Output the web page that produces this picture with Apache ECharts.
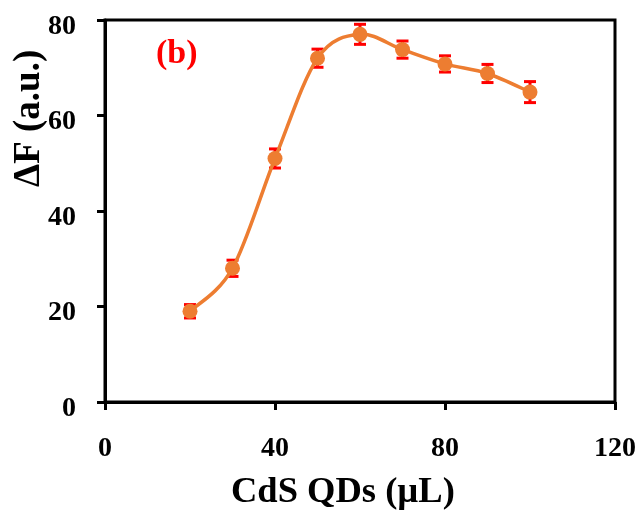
<!DOCTYPE html>
<html><head><meta charset="utf-8">
<script src="https://cdn.jsdelivr.net/npm/echarts@6/dist/echarts.min.js"></script>
<style>html,body{margin:0;padding:0;background:#fff}#c{width:644px;height:513px}</style>
</head><body><div id="c"></div>
<script>
var volumes = [20, 30, 40, 50, 60, 70, 80, 90, 100];
var deltaF = [19, 28, 51, 72, 77, 73.8, 70.8, 68.8, 64.9];
var errors = [1.4, 1.7, 2.0, 1.9, 2.1, 1.8, 1.7, 1.9, 2.2];
var xTicks = [0, 40, 80, 120];
var yTicks = [0, 20, 40, 60, 80];

var pts = volumes.map(function (v, i) { return [v, deltaF[i]]; });
var errData = volumes.map(function (v, i) { return [v, deltaF[i] - errors[i], deltaF[i] + errors[i]]; });
var font = '"Liberation Serif", "Times New Roman", serif';

var chart = echarts.init(document.getElementById('c'), null, {renderer: 'canvas'});
chart.setOption({
  animation: false,
  grid: {left: 105, top: 20, right: 29, bottom: 111, show: true, borderColor: '#000', borderWidth: 3, backgroundColor: 'transparent'},
  xAxis: {
    type: 'value', min: xTicks[0], max: xTicks[xTicks.length - 1], interval: 40,
    axisLine: {lineStyle: {color: '#000', width: 3}},
    axisTick: {show: true, length: 8, lineStyle: {color: '#000', width: 3}},
    splitLine: {show: false},
    axisLabel: {color: '#000', fontFamily: font, fontWeight: 'bold', fontSize: 28, margin: 33}
  },
  yAxis: {
    type: 'value', min: yTicks[0], max: yTicks[yTicks.length - 1], interval: 20,
    axisLine: {show: true, lineStyle: {color: '#000', width: 3}},
    axisTick: {show: true, length: 8, lineStyle: {color: '#000', width: 3}},
    splitLine: {show: false},
    axisLabel: {color: '#000', fontFamily: font, fontWeight: 'bold', fontSize: 28, margin: 29, verticalAlign: 'top', lineHeight: 13}
  },
  graphic: [
    {type: 'text', left: 231, top: 474, style: {text: 'CdS QDs (µL)', fill: '#000', font: 'bold 36.5px ' + font}},
    {type: 'text', x: 11, y: 187, rotation: Math.PI / 2, style: {text: 'ΔF (a.u.)', fill: '#000', font: 'bold 37px ' + font, textAlign: 'left', textVerticalAlign: 'top'}},
    {type: 'text', left: 156, top: 37, style: {text: '(b)', fill: '#ff0000', font: 'bold 34px ' + font}}
  ],
  series: [
    {
      type: 'custom', z: 1,
      data: errData,
      renderItem: function (params, api) {
        var x = api.value(0);
        var lo = api.coord([x, api.value(1)]);
        var hi = api.coord([x, api.value(2)]);
        var w = 6;
        var st = {stroke: '#ff0000', lineWidth: 3};
        return {type: 'group', children: [
          {type: 'line', shape: {x1: lo[0], y1: lo[1], x2: hi[0], y2: hi[1]}, style: st},
          {type: 'line', shape: {x1: lo[0] - w, y1: lo[1], x2: lo[0] + w, y2: lo[1]}, style: st},
          {type: 'line', shape: {x1: hi[0] - w, y1: hi[1], x2: hi[0] + w, y2: hi[1]}, style: st}
        ]};
      }
    },
    {
      type: 'custom', z: 2,
      data: pts.slice(0, pts.length - 1),
      renderItem: function (params, api) {
        var i = params.dataIndex;
        var n = pts.length;
        var c = function (k) { return api.coord(pts[Math.max(0, Math.min(n - 1, k))]); };
        var p0 = c(i - 1), p1 = c(i), p2 = c(i + 1), p3 = c(i + 2);
        var t = 1 / 6;
        var cp1 = [p1[0] + (p2[0] - p0[0]) * t, p1[1] + (p2[1] - p0[1]) * t];
        var cp2 = [p2[0] - (p3[0] - p1[0]) * t, p2[1] - (p3[1] - p1[1]) * t];
        return {
          type: 'bezierCurve',
          shape: {x1: p1[0], y1: p1[1], x2: p2[0], y2: p2[1], cpx1: cp1[0], cpy1: cp1[1], cpx2: cp2[0], cpy2: cp2[1]},
          style: {stroke: '#ED7D31', lineWidth: 3.5, fill: null}
        };
      }
    },
    {
      type: 'line', z: 3, data: pts,
      symbol: 'circle', symbolSize: 15,
      lineStyle: {opacity: 0},
      itemStyle: {color: '#ED7D31'}
    }
  ]
});
</script></body></html>
